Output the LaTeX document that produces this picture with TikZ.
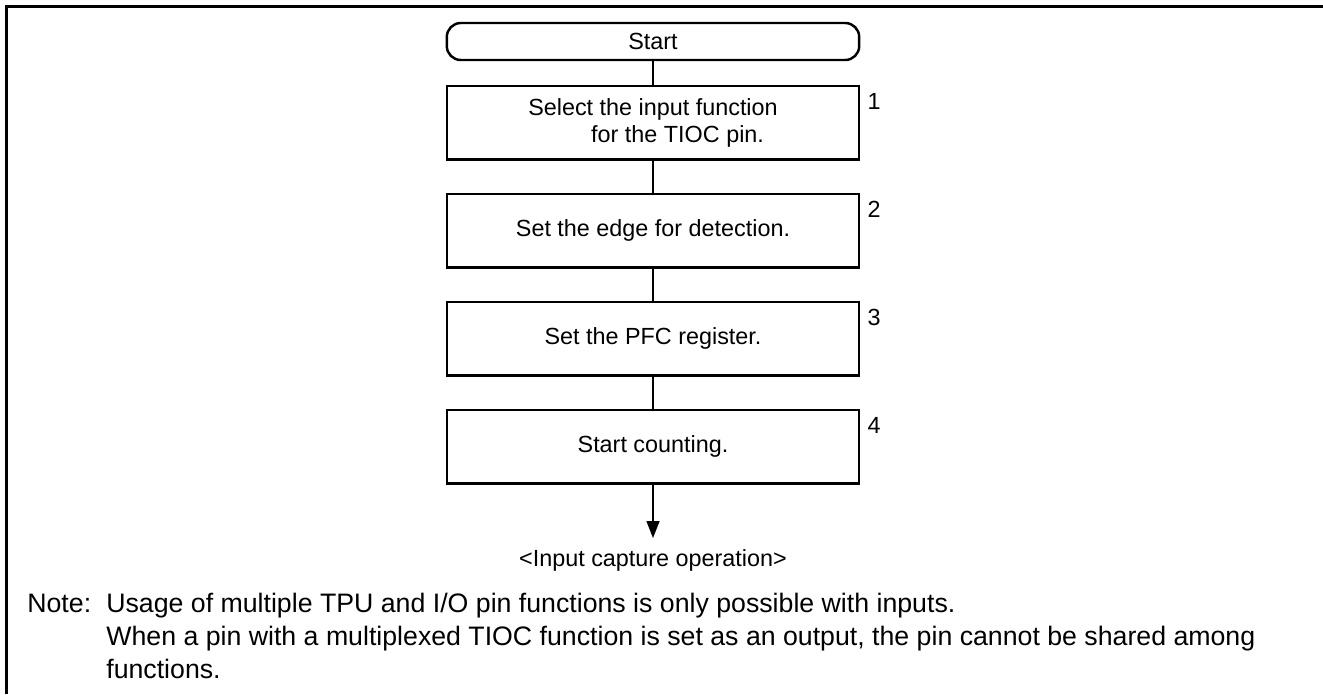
\documentclass[tikz,border=0pt]{standalone}
\usepackage{fontspec}
\setmainfont{Liberation Sans}
\usetikzlibrary{arrows.meta,positioning}

\begin{document}
\begin{tikzpicture}[x=0.02cm,y=-0.02cm,
  font=\fontsize{13.3}{15.1}\selectfont,
  frameline/.style={line width=1.4pt},
  terminal/.style={draw,line width=1.4pt,rounded corners=0.28cm,minimum width=8.25cm,minimum height=0.74cm,inner sep=0pt,outer sep=0pt},
  stepbox/.style={draw,line width=1.4pt,minimum width=8.25cm,minimum height=1.47cm,align=center,inner sep=0pt,outer sep=0pt},
  stepnum/.style={anchor=base west,inner sep=0pt},
  link/.style={line width=0.6pt},
  notetext/.style={anchor=base west,inner sep=0pt,font=\fontsize{15.2}{18.8}\selectfont}]
\useasboundingbox (0,0) rectangle (1323,694);

% Frame (top and left edge only)
\draw[frameline] (6.5,694) -- (6.5,6.5) -- (1323,6.5);

% Flow
\node[terminal] (start) at (653,41.5) {Start};
\node[stepbox,below=0.52cm of start] (s1) {Select the input function\\ \hspace*{28pt}for the TIOC pin.};
\node[stepbox,below=0.69cm of s1] (s2) {Set the edge for detection.};
\node[stepbox,below=0.69cm of s2] (s3) {Set the PFC register.};
\node[stepbox,below=0.69cm of s3] (s4) {Start counting.};

% step numbers
\node[stepnum] (n1) at ([shift={(8,24)}]s1.north east) {1};
\node[stepnum] (n2) at ([shift={(8,24)}]s2.north east) {2};
\node[stepnum] (n3) at ([shift={(8,24)}]s3.north east) {3};
\node[stepnum] (n4) at ([shift={(8,24)}]s4.north east) {4};

% Connectors
\draw[link] (start) -- (s1);
\draw[link] (s1) -- (s2);
\draw[link] (s2) -- (s3);
\draw[link] (s3) -- (s4);
\coordinate (tip) at (653,538);
\draw[link,-{Triangle[length=9.6pt,width=7.4pt]}] (s4) -- (tip);
\node[anchor=base] (result) at (653,566) {<Input capture operation>};

% Note
\node[notetext] (note) at (27,612) {Note:};
\node[notetext] (l1) at (106,612) {Usage of multiple TPU and I/O pin functions is only possible with inputs.};
\node[notetext] (l2) at (106,645) {When a pin with a multiplexed TIOC function is set as an output, the pin cannot be shared among};
\node[notetext] (l3) at (106,678) {functions.};
\end{tikzpicture}
\end{document}
